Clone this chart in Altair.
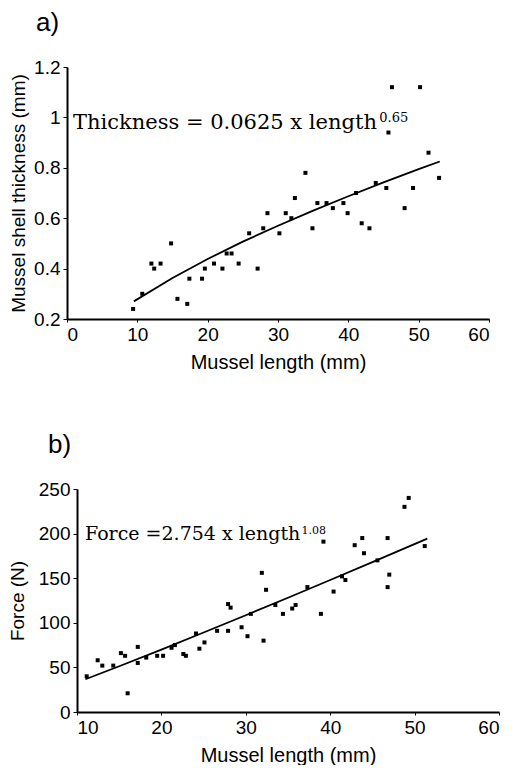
import altair as alt
import pandas as pd

# ---- Panel a: shell thickness vs length ----
a_length = [9.4, 10.7, 12.0, 12.4, 13.3, 14.8, 15.7, 17.1, 17.4, 19.2, 19.6, 20.9,
            22.1, 22.7, 23.4, 24.4, 25.9, 27.1, 27.9, 28.5, 30.2, 31.1, 31.9, 32.4,
            33.9, 34.9, 35.6, 36.9, 37.8, 39.3, 39.9, 41.1, 41.9, 43.0, 43.9, 45.4,
            45.7, 46.2, 48.0, 49.2, 50.2, 51.4, 52.9]
a_thick = [0.24, 0.30, 0.42, 0.40, 0.42, 0.50, 0.28, 0.26, 0.36, 0.36, 0.40, 0.42,
           0.40, 0.46, 0.46, 0.42, 0.54, 0.40, 0.56, 0.62, 0.54, 0.62, 0.60, 0.68,
           0.78, 0.56, 0.66, 0.66, 0.64, 0.66, 0.62, 0.70, 0.58, 0.56, 0.74, 0.72,
           0.94, 1.12, 0.64, 0.72, 1.12, 0.86, 0.76]
a_fit_x = [9.5, 15, 20, 25, 30, 35, 40, 45, 50, 53]
a_fit_y = [0.270, 0.363, 0.438, 0.507, 0.570, 0.630, 0.687, 0.742, 0.795, 0.825]
a_eq = "Thickness = 0.0625 x length"
a_eq_sup = "0.65"

# ---- Panel b: force vs length ----
b_length = [11.15, 12.45, 13.0, 14.3, 15.2, 15.7, 16.0, 17.2, 17.2, 18.2, 19.5, 20.2,
            21.2, 21.6, 22.6, 22.9, 24.1, 24.5, 25.1, 26.6, 27.9, 28.2, 27.9, 29.5,
            30.2, 30.6, 31.9, 32.1, 32.4, 33.5, 34.4, 35.5, 35.9, 37.3, 38.9, 39.2,
            40.4, 41.4, 41.8, 42.9, 43.8, 44.0, 45.6, 46.8, 46.8, 47.0, 48.8, 49.3, 51.2]
b_force = [40, 58, 52, 52, 66, 63, 21, 73, 55, 61, 63, 63,
           72, 75, 65, 63, 88, 71, 78, 91, 121, 117, 91, 95,
           85, 110, 156, 80, 137, 120, 110, 116, 120, 140, 110, 191,
           135, 152, 148, 187, 195, 178, 170, 195, 140, 154, 230, 240, 186]
b_fit_x = [11, 15, 20, 25, 30, 35, 40, 45, 51.5]
b_fit_y = [36.7, 51.3, 70.0, 89.1, 108.5, 128.1, 148.0, 168.0, 194.4]
b_eq = "Force =2.754 x length"
b_eq_sup = "1.08"

a_yticks = [0.2, 0.3, 0.4, 0.5, 0.6, 0.7, 0.8, 0.9, 1.0, 1.1, 1.2]
b_yticks = [0, 25, 50, 75, 100, 125, 150, 175, 200, 225, 250]

SANS = "Liberation Sans"
SERIF = "DejaVu Serif"

def axis_y(title, vals, label_expr, tpad, offset=0):
    return alt.Axis(title=title, values=vals, labelExpr=label_expr, grid=False,
                    tickSize=4, labelPadding=3, titlePadding=tpad, offset=offset,
                    titleFontSize=19)

def axis_x(vals):
    return alt.Axis(title="Mussel length (mm)", values=vals, grid=False,
                    tickSize=3, labelPadding=3, titlePadding=8, titleFontSize=20)

# Panel a
dfa = pd.DataFrame({"L": a_length, "T": a_thick})
fita = pd.DataFrame({"L": a_fit_x, "T": a_fit_y})
eqa = pd.DataFrame({"L": [0.85], "T": [0.955], "t": [a_eq]})
supa = pd.DataFrame({"L": [44.4], "T": [0.982], "t": [a_eq_sup]})

xa = alt.X("L:Q", scale=alt.Scale(domain=[0, 60], nice=False),
           axis=axis_x([0, 10, 20, 30, 40, 50, 60]))
ya = alt.Y("T:Q", scale=alt.Scale(domain=[0.2, 1.2], nice=False, zero=False),
           axis=axis_y("Mussel shell thickness (mm)", a_yticks,
                       "round(datum.value*10) % 2 == 0 ? format(datum.value, '~g') : ''", 5))

pa = alt.Chart(dfa).mark_square(size=16, color="black", opacity=1).encode(x=xa, y=ya)
la = alt.Chart(fita).mark_line(color="black", strokeWidth=1.8).encode(x="L:Q", y="T:Q")
ta = alt.Chart(eqa).mark_text(font=SERIF, fontSize=21, align="left", baseline="alphabetic",
                              color="black").encode(x="L:Q", y="T:Q", text="t:N")
sa = alt.Chart(supa).mark_text(font=SERIF, fontSize=13, align="left", baseline="alphabetic",
                               color="black").encode(x="L:Q", y="T:Q", text="t:N")
chart_a = alt.layer(pa, la, ta, sa).properties(
    width=422, height=252,
    title=alt.TitleParams("a)", anchor="start", frame="group", dx=-31, fontSize=26,
                          font=SANS, fontWeight="normal", color="black", offset=22))

# Panel b (plot area shifted 10px right of panel a's, as in the reference)
dfb = pd.DataFrame({"L": b_length, "F": b_force})
fitb = pd.DataFrame({"L": b_fit_x, "F": b_fit_y})
eqb = pd.DataFrame({"L": [10.95], "F": [193.3], "t": [b_eq]})
supb = pd.DataFrame({"L": [36.6], "F": [199.7], "t": [b_eq_sup]})

xb = alt.X("L:Q", scale=alt.Scale(domain=[10, 60], nice=False, zero=False, range=[10, 432]),
           axis=axis_x([10, 20, 30, 40, 50, 60]))
yb = alt.Y("F:Q", scale=alt.Scale(domain=[0, 250], nice=False),
           axis=axis_y("Force (N)", b_yticks,
                       "datum.value % 50 == 0 ? format(datum.value, 'd') : ''", 11, offset=-10))

pb = alt.Chart(dfb).mark_square(size=16, color="black", opacity=1).encode(x=xb, y=yb)
lb = alt.Chart(fitb).mark_line(color="black", strokeWidth=1.8).encode(x="L:Q", y="F:Q")
tb = alt.Chart(eqb).mark_text(font=SERIF, fontSize=19, align="left", baseline="alphabetic",
                              color="black").encode(x="L:Q", y="F:Q", text="t:N")
sb = alt.Chart(supb).mark_text(font=SERIF, fontSize=11, align="left", baseline="alphabetic",
                               color="black").encode(x="L:Q", y="F:Q", text="t:N")
chart_b = alt.layer(pb, lb, tb, sb).properties(
    width=432, height=223,
    title=alt.TitleParams("b)", anchor="start", frame="group", dx=-19, fontSize=26,
                          font=SANS, fontWeight="normal", color="black", offset=22))

chart = alt.vconcat(chart_a, chart_b, spacing=60).properties(
    padding={"left": 0, "top": 2, "right": 0, "bottom": 0}
).configure_view(stroke=None).configure_axis(
    labelFont=SANS, titleFont=SANS, labelFontSize=19,
    titleFontWeight="normal", labelColor="black", titleColor="black",
    domainColor="black", domainWidth=2, tickColor="black", tickWidth=1
)

chart.save("out.html", embed_options={"renderer": "svg", "actions": False})
